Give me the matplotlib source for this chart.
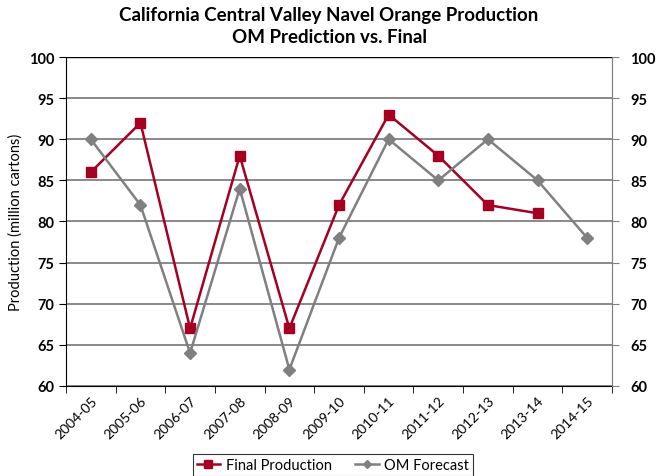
import numpy as np
import matplotlib
matplotlib.use('Agg')
import matplotlib.pyplot as plt

# ===== data =====
seasons = ['2004-05', '2005-06', '2006-07', '2007-08', '2008-09', '2009-10',
           '2010-11', '2011-12', '2012-13', '2013-14', '2014-15']
final_prod = [86, 92, 67, 88, 67, 82, 93, 88, 82, 81, np.nan]
om_forecast = [90, 82, 64, 84, 62, 78, 90, 85, 90, 85, 78]
y_ticks = [60, 65, 70, 75, 80, 85, 90, 95, 100]

plt.rcParams['font.family'] = ['Lato', 'DejaVu Sans']

red = '#A50021'
gray = '#808080'

fig = plt.figure(figsize=(6.58, 4.77), dpi=100)
ax = fig.add_axes([0.1003, 0.1887, 0.8298, 0.6897])

x = np.arange(len(seasons))
ax.plot(x, final_prod, color=red, lw=1.8, marker='s', ms=7, label='Final Production')
ax.plot(x, om_forecast, color=gray, lw=1.8, marker='D', ms=6, label='OM Forecast')

ax.set_xlim(-0.5, len(seasons) - 0.5)
ax.set_ylim(60, 100)
ax.set_yticks(y_ticks)
ax.yaxis.grid(True, color=gray, lw=1.3)
ax.set_axisbelow(True)
ax.axhline(100, color='black', lw=1)

# category labels at centres, tick marks at boundaries
ax.set_xticks(x)
ax.set_xticklabels(seasons, rotation=45, ha='right', rotation_mode='anchor', fontsize=10)
ax.tick_params(axis='x', which='major', length=0, pad=6)
ax.set_xticks(np.arange(-0.5, len(seasons) + 0.5, 1), minor=True)
ax.tick_params(axis='x', which='minor', length=5, color='black')

ax.tick_params(axis='y', length=5, labelsize=10.5)
for lbl in ax.get_yticklabels():
    lbl.set_fontweight('bold')

ax.spines['top'].set_visible(False)
ax.spines['right'].set_color(gray)
ax.spines['left'].set_color('black')
ax.spines['bottom'].set_color('black')

ax2 = ax.twinx()
ax2.set_ylim(60, 100)
ax2.set_yticks(y_ticks)
ax2.tick_params(axis='y', length=5, color=gray, labelsize=10.5, pad=8)
for lbl in ax2.get_yticklabels():
    lbl.set_fontweight('bold')
for s in ['top', 'left', 'bottom']:
    ax2.spines[s].set_visible(False)
ax2.spines['right'].set_color(gray)

ax.set_ylabel('Production (million cartons)', fontsize=10.5, labelpad=4)

fig.suptitle('California Central Valley Navel Orange Production\nOM Prediction vs. Final',
             fontsize=13.5, fontweight='bold', y=0.985, linespacing=1.35)

leg = fig.legend(loc='center', bbox_to_anchor=(0.506, 0.023), ncol=2, fontsize=10.5,
                 frameon=True, fancybox=False, edgecolor='black', handlelength=1.6,
                 handletextpad=0.4, columnspacing=1.6, borderpad=0.25, markerscale=0.75)
leg.get_frame().set_linewidth(0.8)

plt.savefig('out.png', dpi=100)
